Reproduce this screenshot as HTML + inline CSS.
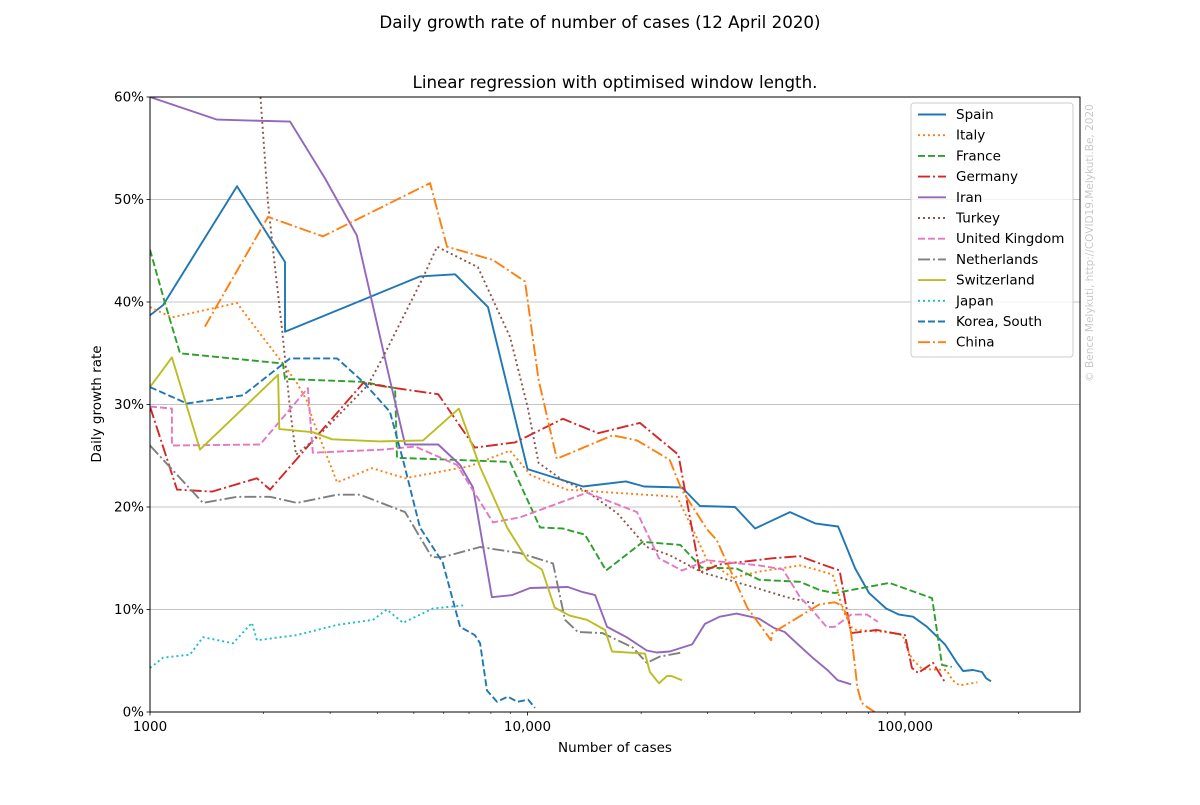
<!DOCTYPE html>
<html><head><meta charset="utf-8"><style>
body{margin:0;background:#fff;font-family:"Liberation Sans","DejaVu Sans",sans-serif;}
svg text{font-family:"DejaVu Sans","Liberation Sans",sans-serif;}
</style></head><body>
<svg id="chart" width="1200" height="800" viewBox="0 0 1200 800">
<rect x="0" y="0" width="1200" height="800" fill="#fff"/>
<text x="600" y="28" text-anchor="middle" font-size="16.7">Daily growth rate of number of cases (12 April 2020)</text>
<text x="615" y="88" text-anchor="middle" font-size="16.7">Linear regression with optimised window length.</text>
<text x="0" y="0" transform="translate(101,404) rotate(-90)" text-anchor="middle" font-size="13.5">Daily growth rate</text>
<text x="615" y="752" text-anchor="middle" font-size="13.5">Number of cases</text>
<text x="0" y="0" transform="translate(1093,243) rotate(-90)" text-anchor="middle" font-size="10.5" fill="#c8c8c8">© Bence Melykuti, http://COVID19.Melykuti.Be, 2020</text>
<defs><clipPath id="plotclip"><rect x="150" y="97" width="930" height="615"/></clipPath></defs>
<g id="grid"></g>
<g id="series" clip-path="url(#plotclip)"></g>
<rect x="150" y="97" width="930" height="615" fill="none" stroke="#000" stroke-width="1"/>
<g id="axes"></g>
<g id="legend"></g>
</svg>
<script>
const yTicks=[0,10,20,30,40,50,60];
const xMajorTicks=[1000,10000,100000];
const xMajorLabels=["1000","10,000","100,000"];
const seriesNames=["Spain","Italy","France","Germany","Iran","Turkey","United Kingdom","Netherlands","Switzerland","Japan","Korea, South","China"];
const spain=[[1000,38.7],[1083,39.7],[1700,51.3],[2279,43.9],[2279,37.1],[5190,42.5],[6430,42.7],[7860,39.5],[10000,23.7],[14030,22.0],[18230,22.5],[20370,22.0],[25660,21.9],[28640,20.1],[35460,20.0],[40090,17.9],[49590,19.5],[57800,18.4],[66500,18.1],[73800,14.0],[80340,11.6],[89100,10.1],[96400,9.5],[105000,9.3],[114400,8.3],[127600,6.6],[137300,4.8],[142500,4.0],[151400,4.1],[159900,3.9],[164000,3.3],[169000,3.0]];
const italy=[[1000,39.5],[1143,38.5],[1700,39.9],[1840,38.2],[2250,34.0],[2450,32.1],[2600,30.4],[2700,28.5],[3130,22.4],[3870,23.8],[4740,22.8],[7050,24.0],[8990,25.5],[10200,23.1],[12700,21.7],[24900,21.0],[28000,17.1],[29900,14.8],[34900,13.1],[41100,13.7],[52700,14.3],[59300,13.8],[64300,13.4],[66300,11.9],[68300,10.0],[72000,8.3],[74300,8.0],[89000,7.8],[98600,7.5],[101700,6.0],[104900,5.1],[110900,4.2],[128700,4.1],[133600,3.1],[139400,2.6],[155500,2.9]];
const france=[[1000,45.1],[1096,39.9],[1201,35.0],[2250,34.0],[2279,32.5],[3669,32.2],[4460,31.6],[4510,24.8],[8990,24.4],[10800,18.0],[12400,17.9],[14200,17.3],[16150,13.8],[20200,16.6],[25400,16.3],[28900,14.1],[35800,14.0],[41100,12.9],[52700,12.7],[59300,11.9],[65100,11.6],[91000,12.6],[118000,11.1],[125300,4.6],[133000,4.4]];
const germany=[[1000,29.8],[1179,21.7],[1460,21.5],[1920,22.8],[2080,21.7],[3669,32.1],[4460,31.6],[5800,31.0],[7250,25.8],[9270,26.3],[12400,28.6],[15380,27.2],[19850,28.2],[25100,25.1],[28640,13.6],[32300,14.4],[44500,15.0],[52700,15.2],[59300,14.5],[67100,13.8],[72000,7.7],[84200,8.0],[100000,7.5],[104300,4.3],[108300,3.8],[118600,4.8],[127600,2.9]];
const iran=[[1000,60.0],[1505,57.8],[2350,57.6],[2905,52.1],[3530,46.5],[4320,32.4],[4740,26.1],[5800,26.1],[6630,24.1],[7170,21.9],[8050,11.2],[9100,11.4],[10160,12.1],[12800,12.2],[14000,11.7],[15100,11.4],[16250,8.3],[18300,7.3],[20700,6.0],[22000,5.8],[23800,5.9],[27300,6.6],[29500,8.6],[32300,9.3],[35800,9.6],[41100,9.1],[45000,8.2],[48000,7.8],[51700,6.7],[56900,5.3],[62300,4.1],[66300,3.1],[72000,2.7]];
const turkey=[[1957,60.5],[2054,49.7],[2118,45.1],[2239,37.3],[2350,29.5],[2437,25.1],[2770,26.8],[3780,31.9],[4140,34.6],[5290,42.4],[5760,45.4],[7390,43.4],[8990,36.6],[10000,29.8],[10700,24.3],[12400,22.6],[14370,21.5],[17280,19.4],[20700,16.1],[23800,15.3],[29100,13.6],[39600,12.2],[48600,11.2],[57500,10.6]];
const uk=[[1000,29.8],[1143,29.6],[1143,26.0],[1957,26.1],[2620,31.6],[2700,25.3],[4140,25.6],[5040,25.9],[6510,24.1],[8100,18.5],[9560,19.0],[14370,21.4],[19500,19.5],[22300,15.0],[25660,13.8],[29900,14.8],[41100,14.3],[47500,13.9],[52700,11.2],[56600,10.0],[62000,8.3],[65100,8.3],[72000,9.5],[79300,9.5],[84700,8.8]];
const netherlands=[[1000,26.0],[1382,20.4],[1700,21.0],[2080,21.0],[2450,20.4],[3130,21.2],[3600,21.2],[4740,19.5],[5580,15.1],[5960,15.1],[7490,16.1],[9560,15.5],[11680,14.5],[12570,9.0],[13600,7.8],[15800,7.7],[19000,6.3],[20700,4.8],[22400,5.4],[25660,5.8]];
const switzerland=[[1000,31.7],[1143,34.6],[1357,25.6],[2184,32.9],[2200,27.6],[2700,27.3],[3035,26.6],[4070,26.4],[5290,26.5],[6580,29.6],[7490,23.9],[8830,18.0],[10000,14.8],[10920,13.9],[11800,10.2],[12930,9.4],[14370,9.0],[16050,8.0],[16740,5.9],[20480,5.7],[21100,3.9],[22300,2.8],[23400,3.5],[24100,3.5],[25660,3.1]];
const japan=[[1000,4.3],[1083,5.3],[1276,5.6],[1382,7.3],[1659,6.7],[1862,8.7],[1920,7.0],[2450,7.5],[3130,8.5],[3900,9.0],[4240,10.0],[4680,8.7],[5620,10.1],[6750,10.4]];
const korea=[[1000,31.7],[1253,30.1],[1763,30.9],[2350,34.5],[3130,34.5],[3669,32.2],[4320,29.3],[4680,24.6],[5190,18.0],[5960,14.6],[6630,8.3],[7250,7.5],[7490,6.7],[7810,2.1],[8300,1.0],[8870,1.5],[9390,1.0],[10040,1.2],[10470,0.4]];
const china=[[1398,37.6],[2054,48.3],[2870,46.4],[5520,51.6],[6120,45.4],[8100,44.1],[9850,42.0],[10700,32.4],[11960,24.7],[16800,27.0],[19500,26.5],[23800,24.6],[25600,21.7],[29900,17.8],[31700,16.8],[38200,10.2],[44200,7.0],[44500,7.7],[59300,10.5],[65100,10.7],[68000,10.4],[70400,9.3],[72000,7.7],[74800,2.4],[76700,0.9],[79300,0.5],[83200,0]];

const X0=150,X1=1080,Y0=712,Y1=97;
const xMin=1000,xMax=Math.pow(10,5+175/377.5);
const xScale=v=>X0+(Math.log10(v)-Math.log10(xMin))/(Math.log10(xMax)-Math.log10(xMin))*(X1-X0);
const yScale=v=>Y0-(v/60)*(Y0-Y1);
const NS="http://www.w3.org/2000/svg";
function mk(tag,attrs,parent){const e=document.createElementNS(NS,tag);for(const k in attrs)e.setAttribute(k,attrs[k]);parent.appendChild(e);return e;}
const grid=document.getElementById('grid'),axes=document.getElementById('axes'),ser=document.getElementById('series'),leg=document.getElementById('legend');
yTicks.forEach(t=>{const y=yScale(t);
 if(t>0&&t<60){const g=mk('line',{x1:X0,x2:X1,y1:y,y2:y,stroke:'#b0b0b0','stroke-width':0.8},grid);
 
 }
 mk('line',{x1:X0-3.5,x2:X0,y1:y,y2:y,stroke:'#000','stroke-width':0.8},axes);
 const tx=mk('text',{x:X0-6,y:y+4.5,'text-anchor':'end','font-size':13.5},axes);tx.textContent=t+'%';
 
 
});
xMajorTicks.forEach((t,i)=>{const x=xScale(t);
 mk('line',{x1:x,x2:x,y1:Y0,y2:Y0+3.5,stroke:'#000','stroke-width':0.8},axes);
 const tx=mk('text',{x:x,y:Y0+19,'text-anchor':'middle','font-size':13.5},axes);tx.textContent=xMajorLabels[i];
 
 
});
for(let d=1000;d<=100000;d*=10){for(let m=2;m<=9;m++){const v=d*m;if(v>xMax)break;const x=xScale(v);
 mk('line',{x1:x,x2:x,y1:Y0,y2:Y0+2,stroke:'#000','stroke-width':0.6},axes);}}
const colors=['#1f77b4','#ff7f0e','#2ca02c','#d62728','#9467bd','#8c564b','#e377c2','#7f7f7f','#bcbd22','#17becf','#1f77b4','#ff7f0e'];
const SOLID='none',DOT='2 3',DASH='7 3',DASHDOT='12 3 2 3';
const styles=[SOLID,DOT,DASH,DASHDOT,SOLID,DOT,DASH,DASHDOT,SOLID,DOT,DASH,DASHDOT];
const allData=[spain,italy,france,germany,iran,turkey,uk,netherlands,switzerland,japan,korea,china];
allData.forEach((data,i)=>{
 const d=data.map((p,j)=>(j?'L':'M')+xScale(p[0]).toFixed(1)+','+yScale(p[1]).toFixed(1)).join('');
 const p=mk('path',{d:d,fill:'none',stroke:colors[i],'stroke-width':1.9,'stroke-dasharray':styles[i],'stroke-linejoin':'round'},ser);
 
 
});
const lb=mk('rect',{x:911,y:103,width:162,height:254,rx:3,fill:'#fff','fill-opacity':0.8,stroke:'#ccc','stroke-width':1},leg);


seriesNames.forEach((n,i)=>{const y=114.5+i*20.7;
 const g=mk('g',{},leg);
 
 
 mk('line',{x1:918,x2:946,y1:y,y2:y,stroke:colors[i],'stroke-width':1.9,'stroke-dasharray':styles[i]},g);
 const t=mk('text',{x:956,y:y+4.5,'font-size':13.5},g);t.textContent=n;
});
</script>
</body></html>
